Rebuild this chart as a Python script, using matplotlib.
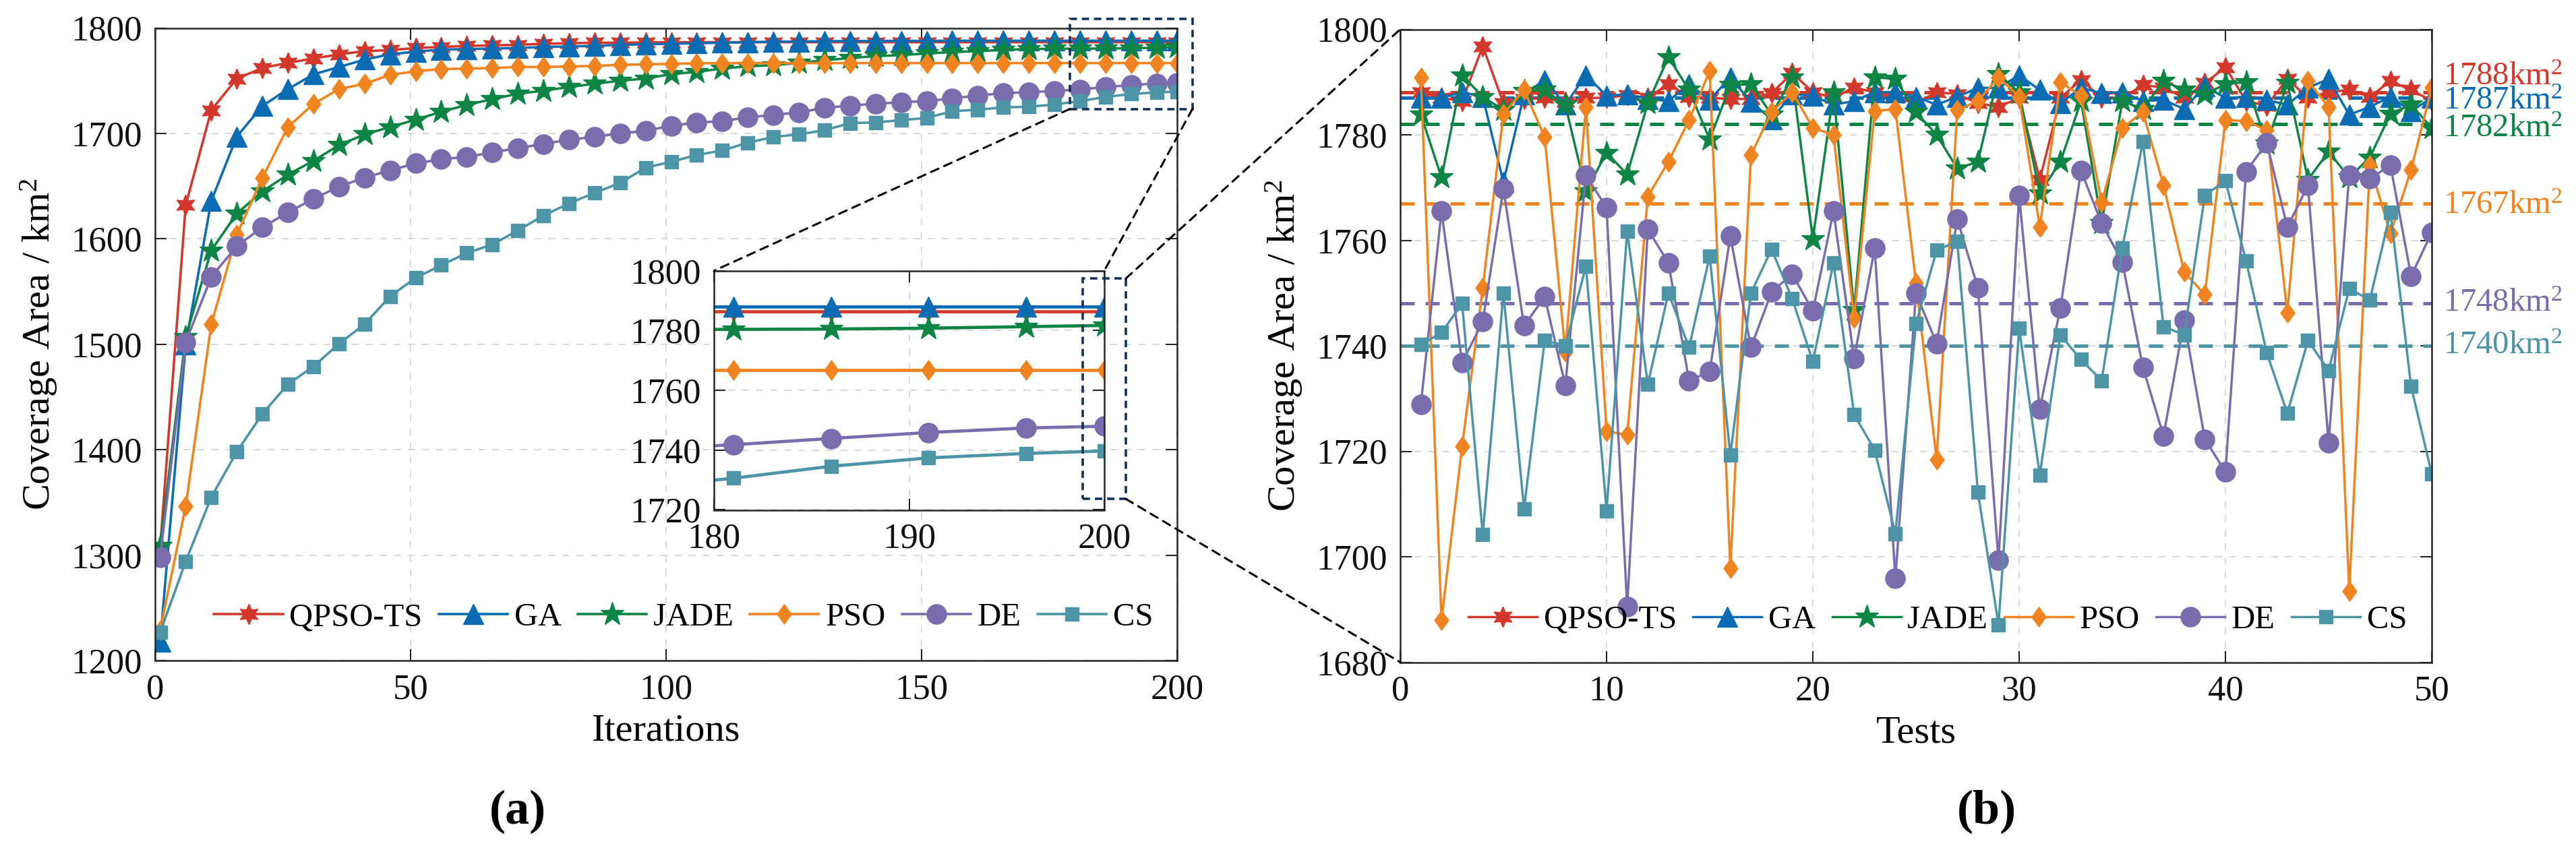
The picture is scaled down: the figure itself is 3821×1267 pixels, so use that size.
import matplotlib
matplotlib.use("Agg")
import matplotlib.pyplot as plt
from matplotlib.patches import Rectangle, ConnectionPatch
from matplotlib.path import Path
import numpy as np

plt.rcParams['font.family'] = ['Liberation Serif', 'DejaVu Serif']
plt.rcParams['mathtext.fontset'] = 'custom'
plt.rcParams['mathtext.rm'] = 'Liberation Serif'
plt.rcParams['mathtext.it'] = 'Liberation Serif:italic'
plt.rcParams['mathtext.bf'] = 'Liberation Serif:bold'

# ---------------- data ----------------
names = ['QPSO-TS', 'GA', 'JADE', 'PSO', 'DE', 'CS']

iters = [1, 6, 11, 16, 21, 26, 31, 36, 41, 46, 51, 56, 61, 66, 71, 76, 81, 86, 91, 96,
         101, 106, 111, 116, 121, 126, 131, 136, 141, 146, 151, 156, 161, 166, 171, 176,
         181, 186, 191, 196, 200]

conv_qpso = [1307, 1632, 1722, 1752, 1762, 1767, 1771, 1775, 1778, 1779, 1781, 1782, 1783,
             1783.5, 1784, 1785, 1785.5, 1786, 1786, 1786.3, 1786.5, 1786.5, 1786.5, 1786.5,
             1786.5, 1786.5, 1786.5, 1786.5, 1786.5, 1786.5, 1786.5, 1786.5, 1786.5, 1786.5,
             1786.5, 1786.5, 1786.5, 1786.5, 1786.5, 1786.5, 1786.5]
conv_ga = [1218, 1500, 1636, 1697, 1726, 1742, 1756, 1763, 1770, 1775, 1777.5, 1779.5, 1780,
           1780.5, 1781, 1782, 1782.5, 1783, 1784, 1784.5, 1785, 1785.5, 1786, 1786.5, 1787,
           1787.2, 1787.4, 1787.6, 1787.7, 1787.8, 1787.8, 1787.9, 1787.9, 1787.9, 1787.9,
           1787.9, 1787.9, 1787.9, 1787.9, 1787.9, 1787.9]
conv_jade = [1309, 1507, 1589, 1624, 1645, 1661, 1674, 1689, 1699, 1706, 1713, 1720.5, 1727,
             1732.5, 1737.7, 1740.4, 1744, 1747, 1750, 1752, 1756.2, 1758.4, 1761.5, 1763.7,
             1764.7, 1766.9, 1769.4, 1771.5, 1773.3, 1774.3, 1775.8, 1777.1, 1778, 1779.2,
             1780, 1780.3, 1780.4, 1780.5, 1780.8, 1781.3, 1781.7]
conv_pso = [1229, 1346.5, 1519, 1604, 1658, 1706, 1728, 1742, 1747, 1755.5, 1759, 1761,
            1761.5, 1762, 1763, 1763, 1763.5, 1764, 1765, 1765.5, 1766, 1766.5, 1766.7,
            1766.7, 1766.7, 1766.7, 1766.7, 1766.7, 1766.7, 1766.7, 1766.7, 1766.7, 1766.7,
            1766.7, 1766.7, 1766.7, 1766.7, 1766.7, 1766.7, 1766.7, 1766.7]
conv_de = [1298, 1502, 1564, 1593, 1611, 1625, 1638, 1649.5, 1658, 1665, 1671.5, 1675.6,
           1677.6, 1682, 1686, 1690, 1694, 1696.7, 1700, 1702.5, 1707.2, 1710.4, 1711.5,
           1715.3, 1717.4, 1720, 1724.2, 1726.4, 1728, 1729.6, 1730.6, 1733.2, 1736, 1738.1,
           1739.1, 1740.2, 1741.8, 1743.9, 1745.9, 1747.4, 1748]
conv_cs = [1227, 1294, 1355, 1398, 1434, 1462, 1479, 1500.5, 1519, 1545.5, 1563, 1575,
           1586.5, 1594.6, 1608, 1622, 1633.6, 1643.6, 1653, 1667.5, 1673.1, 1679.5, 1683.8,
           1691.2, 1696.6, 1699.1, 1703, 1709.7, 1710.4, 1712.6, 1714.7, 1721, 1722.5,
           1724.7, 1725.3, 1727.4, 1730.6, 1734.6, 1737.4, 1738.9, 1739.7]

tests = list(range(1, 51))

test_qpso = [1788.1, 1787.0, 1786.4, 1796.8, 1786.0, 1786.8, 1787.0, 1786.2, 1787.0, 1787.0,
             1787.5, 1787.0, 1789.6, 1787.2, 1787.0, 1786.8, 1786.8, 1787.9, 1791.7, 1788.1,
             1787.0, 1789.0, 1788.0, 1787.0, 1786.0, 1788.1, 1787.7, 1786.0, 1785.3, 1787.0,
             1771.5, 1787.0, 1790.4, 1787.0, 1787.0, 1789.4, 1789.0, 1787.0, 1789.8, 1792.8,
             1786.4, 1785.5, 1790.6, 1787.0, 1788.1, 1788.5, 1787.2, 1790.2, 1788.5, 1786.4]
test_ga = [1787.0, 1787.0, 1788.1, 1787.2, 1771.0, 1787.7, 1790.4, 1785.7, 1791.3, 1787.4,
           1787.7, 1786.8, 1786.4, 1789.6, 1786.6, 1790.9, 1786.2, 1783.0, 1787.7, 1787.4,
           1785.7, 1786.4, 1788.1, 1788.1, 1787.2, 1785.7, 1787.2, 1788.9, 1788.9, 1791.3,
           1788.5, 1786.0, 1788.9, 1787.9, 1788.1, 1786.4, 1786.6, 1784.9, 1789.2, 1787.0,
           1787.2, 1786.6, 1785.7, 1788.9, 1790.6, 1783.8, 1785.3, 1787.2, 1784.5, 1787.0]
test_jade = [1783.8, 1771.9, 1791.3, 1787.2, 1784.7, 1788.3, 1788.5, 1785.7, 1769.3, 1776.6,
             1772.5, 1786.0, 1794.7, 1788.5, 1779.1, 1789.4, 1789.6, 1783.8, 1790.9, 1760.2,
             1788.1, 1746.8, 1790.9, 1790.6, 1784.3, 1780.0, 1773.6, 1774.9, 1791.5, 1788.0,
             1768.9, 1774.9, 1786.4, 1763.2, 1786.4, 1784.9, 1790.2, 1788.5, 1787.7, 1789.6,
             1790.0, 1778.3, 1789.8, 1771.5, 1776.8, 1771.9, 1775.7, 1784.0, 1785.7, 1781.3]
test_pso = [1790.9, 1688.0, 1721.0, 1751.0, 1784.0, 1788.5, 1779.6, 1738.9, 1785.3, 1723.8,
            1723.1, 1768.3, 1774.9, 1782.8, 1792.1, 1697.8, 1776.2, 1784.3, 1788.1, 1781.3,
            1780.0, 1745.3, 1784.5, 1784.9, 1751.9, 1718.4, 1784.7, 1786.4, 1790.9, 1787.2,
            1762.5, 1790.0, 1787.4, 1767.2, 1781.3, 1784.3, 1770.4, 1754.0, 1749.7, 1782.8,
            1782.6, 1780.9, 1746.3, 1790.2, 1785.3, 1693.5, 1774.2, 1761.3, 1773.4, 1788.9]
test_de = [1728.9, 1765.5, 1736.8, 1744.6, 1769.8, 1743.8, 1749.3, 1732.5, 1772.3, 1766.2,
           1690.5, 1762.1, 1755.7, 1733.4, 1735.1, 1760.8, 1739.7, 1750.2, 1753.6, 1746.6,
           1765.5, 1737.6, 1758.5, 1695.9, 1750.0, 1740.4, 1764.0, 1751.0, 1699.3, 1768.5,
           1728.0, 1747.2, 1773.2, 1763.2, 1755.9, 1735.9, 1722.9, 1744.8, 1722.3, 1716.1,
           1773.0, 1778.5, 1762.5, 1770.4, 1721.6, 1772.3, 1771.7, 1774.2, 1753.2, 1761.5]
test_cs = [1740.2, 1742.5, 1748.0, 1704.2, 1750.0, 1709.1, 1741.0, 1740.0, 1755.1, 1708.7,
           1761.7, 1732.7, 1750.0, 1739.7, 1757.0, 1719.3, 1750.0, 1758.3, 1748.9, 1737.0,
           1755.7, 1727.0, 1720.2, 1704.4, 1744.2, 1758.1, 1759.8, 1712.3, 1687.1, 1743.3,
           1715.5, 1742.0, 1737.4, 1733.4, 1758.5, 1778.7, 1743.6, 1742.1, 1768.5, 1771.3,
           1756.1, 1738.7, 1727.2, 1741.0, 1735.3, 1750.8, 1748.7, 1765.3, 1732.3, 1715.7]

means = [1788, 1787, 1782, 1767, 1748, 1740]

conv = [conv_qpso, conv_ga, conv_jade, conv_pso, conv_de, conv_cs]
test = [test_qpso, test_ga, test_jade, test_pso, test_de, test_cs]

# ---------------- style ----------------
colors = ['#D2392C', '#0B6CB3', '#0E8445', '#EF8421', '#7A6DAE', '#4D94A7']
diamond = Path([(0, 1), (0.72, 0), (0, -1), (-0.72, 0), (0, 1)],
               [Path.MOVETO, Path.LINETO, Path.LINETO, Path.LINETO, Path.CLOSEPOLY])
markers = [(6, 1, 0), '^', '*', diamond, 'o', 's']
msizes = [22, 21, 26, 21, 21, 15]
label_dy = [1.4, -2.2, -2.4, -2.0, -1.5, -1.5]

W, H = 3821, 1267
fig = plt.figure(figsize=(W / 100, H / 100), dpi=100)
ax1 = fig.add_axes([230 / W, 1 - 980 / H, 1516 / W, 938.5 / H])
ax2 = fig.add_axes([2077 / W, 1 - 982.5 / H, 1530 / W, 939 / H])
axin = fig.add_axes([1059 / W, 1 - 756.5 / H, 579 / W, 354.8 / H])
axin.set_zorder(5)

spine_c = '#262626'
grid_c = '#DADADA'


def style(ax, lab=38):
    for s in ax.spines.values():
        s.set_linewidth(1.8)
        s.set_color(spine_c)
    ax.tick_params(direction='in', length=12, width=1.5, top=True, right=True,
                   labelsize=lab, pad=14, colors=spine_c, labelcolor='#111111')
    ax.grid(True, color=grid_c, linestyle=(0, (5, 5)), linewidth=1.5)
    ax.set_axisbelow(True)


# ---- panel (a) ----
handles = []
for i in range(6):
    h, = ax1.plot(iters, conv[i], color=colors[i], lw=2.6, marker=markers[i],
                  ms=msizes[i], mfc=colors[i], mec=colors[i], mew=1, label=names[i])
    handles.append(h)
ax1.set_xlim(0, 200)
ax1.set_ylim(1200, 1800)
ax1.set_xticks([0, 50, 100, 150, 200])
ax1.set_yticks([1200, 1300, 1400, 1500, 1600, 1700, 1800])
style(ax1)
ax1.set_xlabel('Iterations', fontsize=42, labelpad=8)
ax1.set_ylabel(r'Coverage Area / km$^{\mathrm{2}}$', fontsize=42, labelpad=12)
ax1.legend(handles=handles, ncol=6, loc='center', bbox_to_anchor=(0.517, 0.068),
           frameon=False, fontsize=35, handlelength=2.1, handletextpad=0.2,
           columnspacing=0.5, borderaxespad=0)

# inset
for i in range(6):
    axin.plot(iters, conv[i], color=colors[i], lw=3.4, marker=markers[i],
              ms=msizes[i], mfc=colors[i], mec=colors[i], mew=1)
axin.set_xlim(180, 200)
axin.set_ylim(1720, 1800)
axin.set_xticks([180, 190, 200])
axin.set_yticks([1720, 1740, 1760, 1780, 1800])
style(axin)
axin.set_facecolor('white')

box_c = '#15305A'
ax1.add_patch(Rectangle((179, 1723.2), 24, 85.2, fill=False, ec=box_c, lw=2.6,
                        ls=(0, (3, 2)), clip_on=False, zorder=6))
axin.add_patch(Rectangle((198.9, 1723.7), 2.2, 73.7, fill=False, ec=box_c, lw=2.6,
                         ls=(0, (3, 2)), clip_on=False, zorder=6))

# ---- panel (b) ----
for i in range(6):
    ax2.axhline(means[i], color=colors[i], lw=3.6, ls=(0, (4.2, 3.2)), zorder=1.5)
h2 = []
for i in range(6):
    h, = ax2.plot(tests, test[i], color=colors[i], lw=2.5, marker=markers[i],
                  ms=msizes[i], mfc=colors[i], mec=colors[i], mew=1, label=names[i],
                  zorder=2 + i * 0.01)
    h2.append(h)
ax2.set_xlim(0, 50)
ax2.set_ylim(1680, 1800)
ax2.set_xticks([0, 10, 20, 30, 40, 50])
ax2.set_yticks([1680, 1700, 1720, 1740, 1760, 1780, 1800])
style(ax2)
ax2.set_xlabel('Tests', fontsize=42, labelpad=8)
ax2.set_ylabel(r'Coverage Area / km$^{\mathrm{2}}$', fontsize=42, labelpad=12)
ax2.legend(handles=h2, ncol=6, loc='center', bbox_to_anchor=(0.521, 0.0666),
           frameon=False, fontsize=35, handlelength=2.1, handletextpad=0.2,
           columnspacing=0.5, borderaxespad=0)
for i in range(6):
    ax2.text(50.56, means[i] + label_dy[i], '%dkm$^{\\mathrm{2}}$' % means[i],
             color=colors[i], fontsize=35, ha='left', va='baseline', clip_on=False)

# connectors
ck = dict(color='black', lw=2.2, ls=(0, (4, 3)), zorder=10)
fig.add_artist(ConnectionPatch(xyA=(179, 1723.2), coordsA=ax1.transData,
                               xyB=(0, 1), coordsB=axin.transAxes, **ck))
fig.add_artist(ConnectionPatch(xyA=(203, 1723.2), coordsA=ax1.transData,
                               xyB=(1, 1), coordsB=axin.transAxes, **ck))
fig.add_artist(ConnectionPatch(xyA=(201.1, 1797.4), coordsA=axin.transData,
                               xyB=(0, 1), coordsB=ax2.transAxes, **ck))
fig.add_artist(ConnectionPatch(xyA=(201.1, 1723.7), coordsA=axin.transData,
                               xyB=(0, 0), coordsB=ax2.transAxes, **ck))

fig.text(768 / W, 1 - 1204 / H, '(a)', fontsize=52, fontweight='bold', ha='center', va='center')
fig.text(2947 / W, 1 - 1204 / H, '(b)', fontsize=52, fontweight='bold', ha='center', va='center')

fig.savefig('out.png', dpi=100, facecolor='white')
